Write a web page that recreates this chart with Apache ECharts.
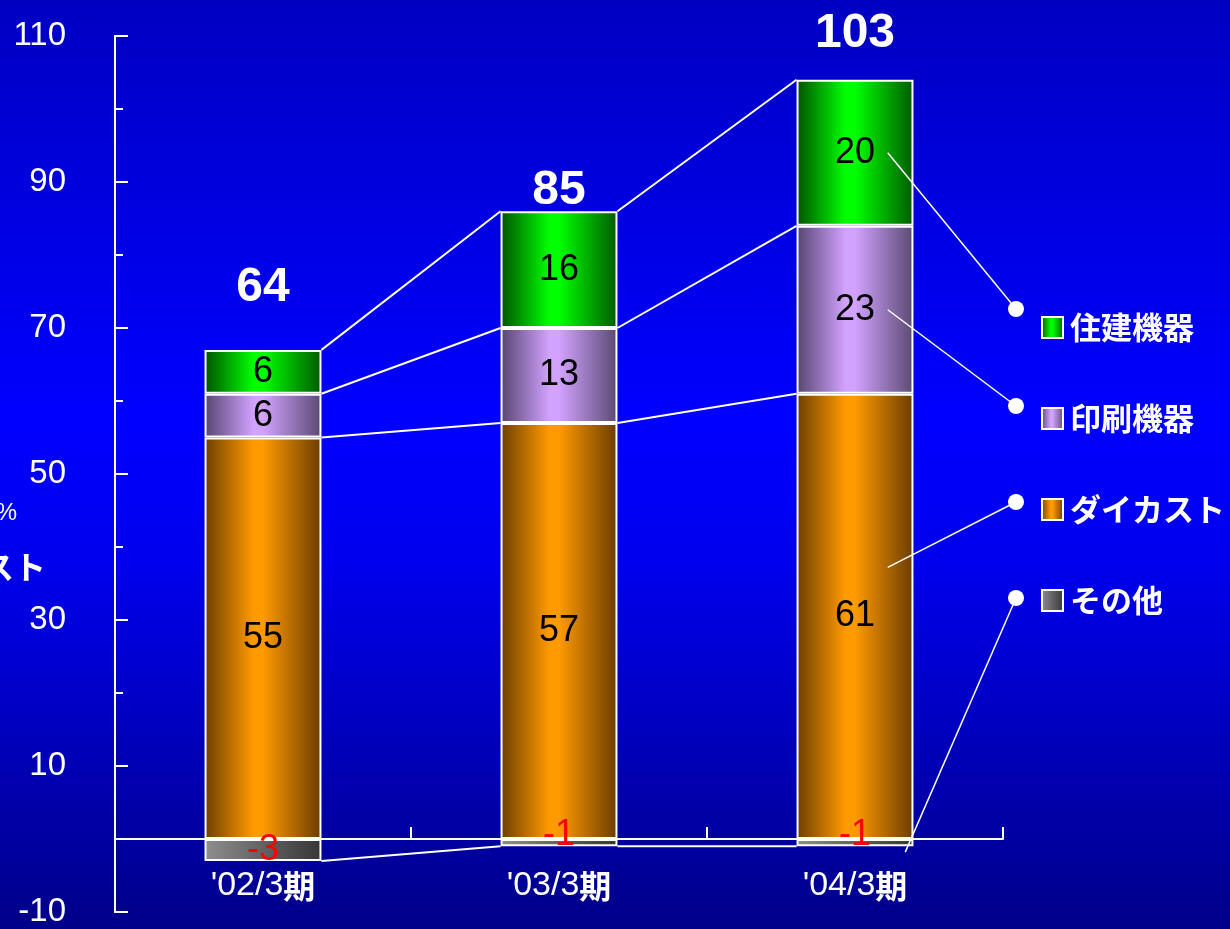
<!DOCTYPE html>
<html><head><meta charset="utf-8">
<script src="https://cdn.jsdelivr.net/npm/echarts@6/dist/echarts.min.js"></script>
<style>
html,body{margin:0;padding:0;width:1230px;height:929px;overflow:hidden;
background:linear-gradient(to bottom,#0000c2 0%,#0000ff 45%,#0000ee 60%,#000088 100%);}
#c{width:1230px;height:929px;}
</style>
</head><body><div id="c"></div>
<script>
// ---- data ----
const categories = ["'02/3", "'03/3", "'04/3"];
const periodSuffix = '期';
const seriesNames = ['住建機器', '印刷機器', 'ダイカスト', 'その他'];
const houseEquip = [6, 16, 20];    // 住建機器
const printEquip = [6, 13, 23];    // 印刷機器
const dieCast = [55, 57, 61];      // ダイカスト
const others = [-3, -1, -1];       // その他
const totals = [64, 85, 103];
const yTickLabels = [-10, 10, 30, 50, 70, 90, 110];

// ---- styling helpers ----
const NUM_FONT = '"Liberation Sans", Arial, sans-serif';
const JP_FONT = '"Noto Sans CJK JP", sans-serif';
function band(edge, mid, edge2) {
  return {type: 'linear', x: 0, y: 0, x2: 1, y2: 0, colorStops: [
    {offset: 0, color: edge}, {offset: 0.42, color: mid}, {offset: 0.5, color: mid}, {offset: 1, color: edge2 || edge}]};
}
const colGreen = band('#005200', '#00ff00', '#005a00');
const colPurple = band('#55456f', '#d2a2ff', '#5a4a72');
const colOrange = band('#6c3f00', '#ff9a00', '#6a3c00');
const colGray = {type: 'linear', x: 0, y: 0, x2: 1, y2: 0, colorStops: [
  {offset: 0, color: '#8e8e8e'}, {offset: 1, color: '#363636'}]};

const barWidthRatio = 0.395;
const posTop = categories.map((c, i) => dieCast[i] + printEquip[i] + houseEquip[i]);

function levels(k) {
  return [dieCast[k], dieCast[k] + printEquip[k], posTop[k], others[k]];
}

const barLabel = {show: true, position: 'inside', color: '#000', fontSize: 36, fontFamily: NUM_FONT};
const barItem = (c) => ({color: c, borderColor: '#fff', borderWidth: 2});

// leader line targets (legend dots, pixel positions next to the legend)
const dotPos = [[1016, 309], [1016, 406], [1016, 502], [1016, 598]];
const totalLabelLift = [62, 20, 46];

const chart = echarts.init(document.getElementById('c'));
chart.setOption({
  backgroundColor: 'transparent',
  animation: false,
  grid: {left: 115, right: 227, top: 36, bottom: 17, containLabel: false, outerBoundsMode: 'none'},
  legend: {
    orient: 'vertical', left: 1036, top: 307, itemGap: 60,
    itemWidth: 21, itemHeight: 21, icon: 'rect',
    itemStyle: {borderColor: '#fff', borderWidth: 2},
    textStyle: {color: '#fff', fontSize: 31, fontWeight: 'bold', fontFamily: JP_FONT, lineHeight: 31, padding: [0, 0, 0, 2]},
    data: seriesNames
  },
  xAxis: {
    type: 'category', data: categories,
    axisLine: {onZero: true, onZeroAxisIndex: 0, lineStyle: {color: '#fff', width: 2}},
    axisTick: {show: true, interval: 0, alignWithLabel: false, inside: true, length: 12, lineStyle: {color: '#fff', width: 2}},
    axisLabel: {
      margin: -43, interval: 0,
      formatter: v => '{a|' + v + '}{b|' + periodSuffix + '}',
      rich: {
        a: {color: '#fff', fontSize: 34, fontFamily: NUM_FONT},
        b: {color: '#fff', fontSize: 32, fontWeight: 'bold', fontFamily: JP_FONT}
      }
    }
  },
  yAxis: [{
    type: 'value', min: -10, max: 110, interval: 10, position: 'left',
    axisLine: {show: true, lineStyle: {color: '#fff', width: 2}},
    axisTick: {show: true, inside: true, length: 13, customValues: yTickLabels, lineStyle: {color: '#fff', width: 2}},
    axisLabel: {color: '#fff', fontSize: 33, fontFamily: NUM_FONT, margin: 49, customValues: yTickLabels},
    splitLine: {show: false}
  }, {
    type: 'value', min: -10, max: 110, interval: 10, position: 'left',
    axisLine: {show: true, lineStyle: {color: '#fff', width: 2}},
    axisTick: {show: true, inside: true, length: 8, lineStyle: {color: '#fff', width: 2}},
    axisLabel: {show: false},
    splitLine: {show: false}
  }],
  graphic: [
    {type: 'text', x: 17, y: 513, style: {text: '%', fill: '#fff', font: '24px ' + NUM_FONT, align: 'right', verticalAlign: 'middle'}},
    {type: 'text', x: 46, y: 567, style: {text: 'スト', fill: '#fff', font: 'bold 32px ' + JP_FONT, align: 'right', verticalAlign: 'middle'}}
  ],
  series: [
    {name: 'ダイカスト', type: 'bar', stack: 'a', barWidth: (barWidthRatio * 100) + '%', data: dieCast,
      itemStyle: barItem(colOrange), label: barLabel},
    {name: '印刷機器', type: 'bar', stack: 'a', data: printEquip,
      itemStyle: barItem(colPurple), label: barLabel},
    {name: '住建機器', type: 'bar', stack: 'a', data: houseEquip,
      itemStyle: barItem(colGreen), label: barLabel},
    {name: 'その他', type: 'bar', stack: 'a', data: others,
      itemStyle: barItem(colGray),
      label: {show: true, position: 'insideBottom', distance: -7, color: '#ff0000', fontSize: 36, fontFamily: NUM_FONT}},
    {
      type: 'custom', name: 'connectors', silent: true, z: 1,
      data: [[0, 0], [1, 0]], encode: {x: 0, y: 1},
      renderItem: function (params, api) {
        const i = params.dataIndex;
        const hw = api.size([1, 0])[0] * barWidthRatio / 2;
        const a = levels(i), b = levels(i + 1);
        return {type: 'group', children: a.map((v, j) => {
          const p1 = api.coord([i, v]), p2 = api.coord([i + 1, b[j]]);
          return {type: 'line', shape: {x1: p1[0] + hw, y1: p1[1], x2: p2[0] - hw, y2: p2[1]},
            style: {stroke: '#fff', lineWidth: 2}};
        })};
      }
    },
    {
      type: 'custom', name: 'totals', silent: true, z: 5,
      data: posTop.map((v, i) => [i, v]), encode: {x: 0, y: 1},
      renderItem: function (params, api) {
        const i = params.dataIndex;
        const p = api.coord([i, posTop[i]]);
        return {type: 'text', x: p[0], y: p[1] - totalLabelLift[i],
          style: {text: String(totals[i]), fill: '#fff', font: 'bold 48px ' + NUM_FONT, align: 'center', verticalAlign: 'middle'}};
      }
    },
    {
      type: 'custom', name: 'leaders', silent: true, z: 6,
      data: [[2, 0]], encode: {x: 0, y: 1},
      renderItem: function (params, api) {
        const k = 2;
        const bw = api.size([1, 0])[0] * barWidthRatio;
        const c = api.coord([k, 0]);
        const anchors = [
          [0.28, dieCast[k] + printEquip[k] + houseEquip[k] * 0.5],
          [0.28, dieCast[k] + printEquip[k] * 0.5],
          [0.28, dieCast[k] * 0.61],
          [0.43, others[k] * 1.8]
        ];
        const children = [];
        anchors.forEach((an, j) => {
          const p = api.coord([k, an[1]]);
          children.push({type: 'line', shape: {x1: c[0] + an[0] * bw, y1: p[1], x2: dotPos[j][0], y2: dotPos[j][1]},
            style: {stroke: '#fff', lineWidth: 1.5}});
          children.push({type: 'circle', shape: {cx: dotPos[j][0], cy: dotPos[j][1], r: 8}, style: {fill: '#fff'}});
        });
        return {type: 'group', children};
      }
    }
  ]
});
</script>
</body></html>
